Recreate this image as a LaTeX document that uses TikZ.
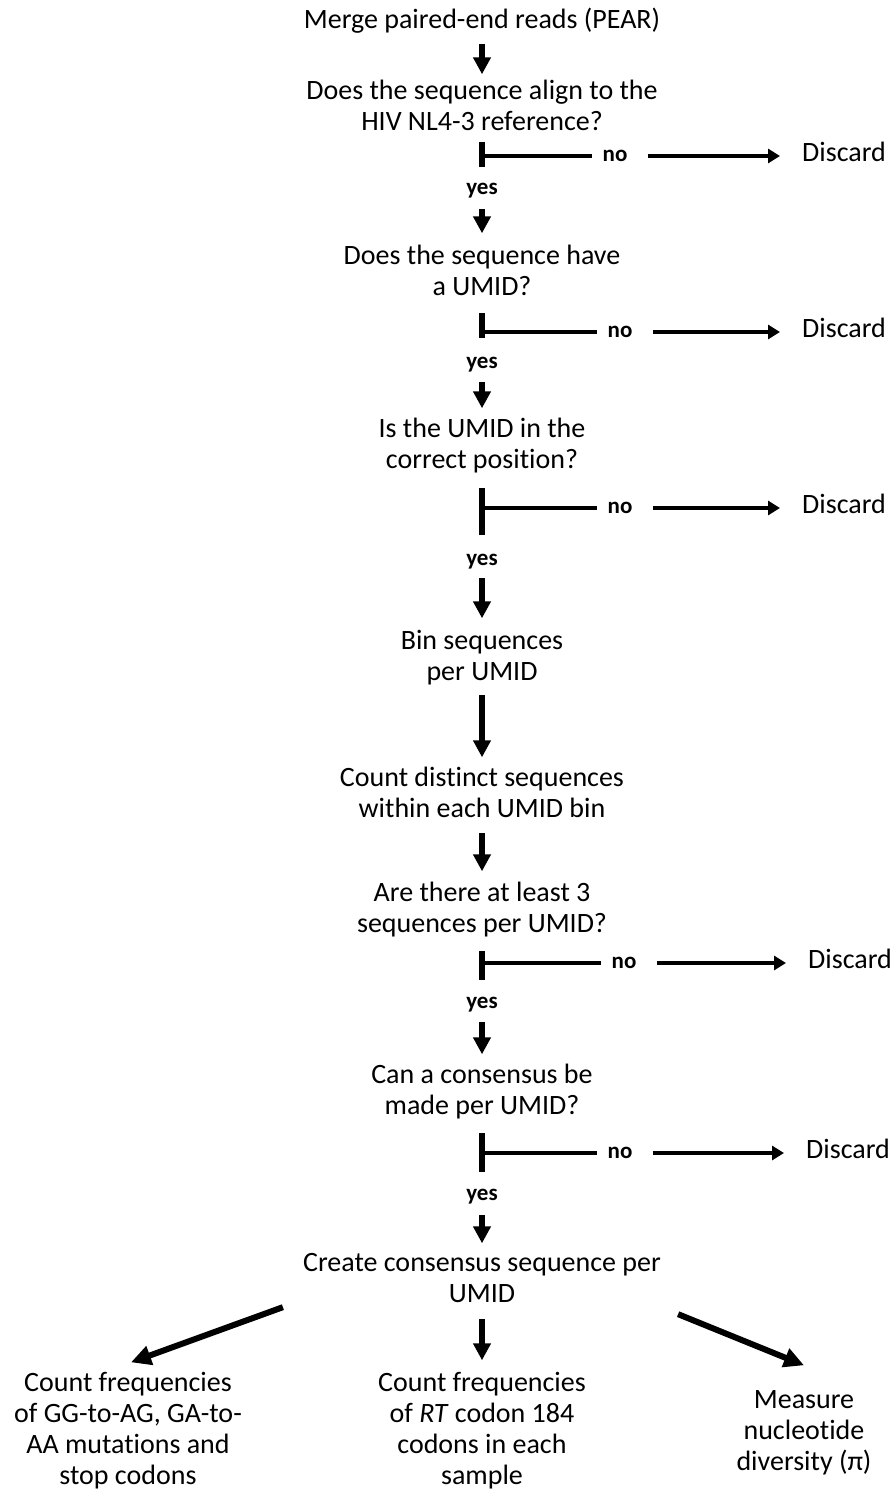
\documentclass[tikz,border=0pt]{standalone}
\usepackage{fontspec}
\setmainfont{Carlito}[Ligatures={NoCommon,NoRare,NoContextual},Contextuals=NoAlternate]
\usetikzlibrary{arrows.meta}

\begin{document}
\begin{tikzpicture}[x=1pt,y=-1pt,
  txt/.style={align=center,inner sep=0pt,anchor=north,font=\fontsize{28}{31}\selectfont,
    execute at begin node=\strut,execute at end node=\strut},
  yeslbl/.style={inner sep=0pt,anchor=base,text depth=5pt,font=\fontsize{23}{26}\selectfont\bfseries},
  nolbl/.style={inner sep=0pt,text height=11pt,text depth=0pt,font=\fontsize{23}{26}\selectfont\bfseries},
  dislbl/.style={inner sep=0pt,anchor=west,text height=11pt,text depth=0pt,font=\fontsize{28}{31}\selectfont},
  arr/.style={-{Triangle[length=17pt,width=17pt]},line width=5.5pt},
  harr/.style={-{Triangle[length=12pt,width=14pt]},line width=4.5pt},
  darr/.style={-{Triangle[length=20pt,width=19pt]},line width=6pt},
  bar/.style={line width=6pt},
  hline/.style={line width=4.5pt}]
  \useasboundingbox (0,0) rectangle (895,1495);
  \node[txt] (merge) at (482,6.3) {Merge paired-end reads (PEAR)};
  \node[txt] (align) at (482,80.3) {Does the sequence align to the\\HIV NL4-3 reference?};
  \node[yeslbl] (yes1) at (482,195) {yes};
  \node[txt] (umid) at (482,245.3) {Does the sequence have\\a UMID?};
  \node[yeslbl] (yes2) at (482,368) {yes};
  \node[txt] (pos) at (482,418.3) {Is the UMID in the\\correct position?};
  \node[yeslbl] (yes3) at (482,565) {yes};
  \node[txt] (bin) at (482,630.3) {Bin sequences\\per UMID};
  \node[txt] (count) at (482,767.3) {Count distinct sequences\\within each UMID bin};
  \node[txt] (three) at (482,882.3) {Are there at least 3\\sequences per UMID?};
  \node[yeslbl] (yes4) at (482,1008) {yes};
  \node[txt] (cons) at (482,1064.3) {Can a consensus be\\made per UMID?};
  \node[yeslbl] (yes5) at (482,1200) {yes};
  \node[txt] (create) at (482,1253.3) {Create consensus sequence per\\UMID};
  \node[txt] (mut) at (128,1372.3) {Count frequencies\\of GG-to-AG, GA-to-\\AA mutations and\\stop codons};
  \node[txt] (rt) at (482,1372.3) {Count frequencies\\of \textit{RT} codon 184\\codons in each\\sample};
  \node[txt] (div) at (804,1390.3) {Measure\\nucleotide\\diversity (π)};

  \coordinate (t1) at (482,156); \coordinate (t1a) at (482,142); \coordinate (t1b) at (482,167);
  \coordinate (t2) at (482,332); \coordinate (t2a) at (482,313); \coordinate (t2b) at (482,338);
  \coordinate (t3) at (482,508); \coordinate (t3a) at (482,488); \coordinate (t3b) at (482,535);
  \coordinate (t4) at (482,963); \coordinate (t4a) at (482,951); \coordinate (t4b) at (482,980);
  \coordinate (t5) at (482,1153); \coordinate (t5a) at (482,1133); \coordinate (t5b) at (482,1172);
  \node[nolbl] (no1) at (615,156) {no};
  \node[nolbl] (no2) at (620,332) {no};
  \node[nolbl] (no3) at (620,508) {no};
  \node[nolbl] (no4) at (624,963) {no};
  \node[nolbl] (no5) at (620,1153) {no};
  \node[dislbl] (dis1) at (802,156) {Discard};
  \node[dislbl] (dis2) at (802,332) {Discard};
  \node[dislbl] (dis3) at (802,508) {Discard};
  \node[dislbl] (dis4) at (808,963) {Discard};
  \node[dislbl] (dis5) at (806,1153) {Discard};

  \draw[bar] (t1a) -- (t1b); \draw[hline,shorten >=10pt] (t1) -- (no1);
  \draw[harr,shorten <=20pt,shorten >=22pt] (no1) -- (dis1);
  \draw[bar] (t2a) -- (t2b); \draw[hline,shorten >=10pt] (t2) -- (no2);
  \draw[harr,shorten <=20pt,shorten >=22pt] (no2) -- (dis2);
  \draw[bar] (t3a) -- (t3b); \draw[hline,shorten >=10pt] (t3) -- (no3);
  \draw[harr,shorten <=20pt,shorten >=22pt] (no3) -- (dis3);
  \draw[bar] (t4a) -- (t4b); \draw[hline,shorten >=10pt] (t4) -- (no4);
  \draw[harr,shorten <=20pt,shorten >=22pt] (no4) -- (dis4);
  \draw[bar] (t5a) -- (t5b); \draw[hline,shorten >=10pt] (t5) -- (no5);
  \draw[harr,shorten <=20pt,shorten >=22pt] (no5) -- (dis5);

  \draw[arr,shorten <=6pt,shorten >=6pt] (merge) -- (align);
  \draw[arr,shorten <=9pt,shorten >=12pt] (yes1) -- (umid);
  \draw[arr,shorten <=9pt,shorten >=10pt] (yes2) -- (pos);
  \draw[arr,shorten <=8pt,shorten >=12pt] (yes3) -- (bin);
  \draw[arr,shorten <=5pt,shorten >=10pt] (bin) -- (count);
  \draw[arr,shorten <=6pt,shorten >=11pt] (count) -- (three);
  \draw[arr,shorten <=9pt,shorten >=10pt] (yes4) -- (cons);
  \draw[arr,shorten <=10pt,shorten >=10pt] (yes5) -- (create);
  \draw[arr,shorten <=7pt,shorten >=12pt] (create) -- (rt);
  \draw[darr] ([shift={(-20,-5)}]create.south west) -- ([shift={(3,-10)}]mut.north);
  \draw[darr] ([shift={(17,2)}]create.south east) -- ([shift={(0,-25)}]div.north);
\end{tikzpicture}
\end{document}
